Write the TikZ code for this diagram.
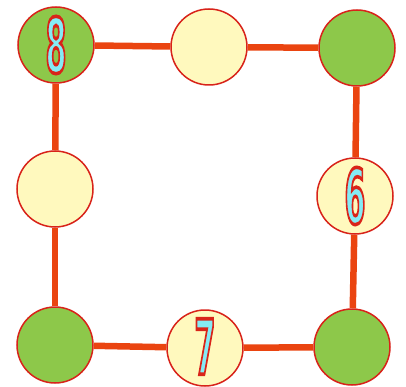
\documentclass[tikz,border=0pt]{standalone}
\usepackage{fontspec}
\setmainfont{DejaVu Sans Condensed}
\definecolor{gfill}{HTML}{8DC84A}
\definecolor{cfill}{HTML}{FFF9BE}
\definecolor{rim}{HTML}{D8231A}
\definecolor{bar}{HTML}{EA4410}
\definecolor{digfill}{HTML}{7FE3EE}
\newcommand{\dig}[1]{\scalebox{0.44}[1]{\fontsize{76}{76}\bfseries\special{pdf:literal direct q 2 Tr 3.6 w 0.85 0.14 0.10 RG 0.52 0.92 0.96 rg}#1\special{pdf:literal direct Q}}}
\tikzset{
  disc/.style={circle, draw=rim, line width=1.5pt, minimum size=76pt, inner sep=0pt},
  gdisc/.style={disc, fill=gfill},
  cdisc/.style={disc, fill=cfill},
  link/.style={draw=bar, line width=6.5pt}
}
\begin{document}
\begin{tikzpicture}[x=1pt,y=-1pt]
\useasboundingbox (0,0) rectangle (406,387);
\node[gdisc] (tl) at (56,45) {\dig{8}};
\node[cdisc] (tm) at (209,47) {};
\node[gdisc] (tr) at (357,48) {};
\node[cdisc] (ml) at (55,189) {};
\node[cdisc] (mr) at (355,196) {\dig{6}};
\node[gdisc] (bl) at (55,345) {};
\node[cdisc] (bm) at (205,348) {\raisebox{3pt}{\dig{7}}};
\node[gdisc] (br) at (352,347) {};
\draw[link] (tl) -- (tm);
\draw[link] (tm) -- (tr);
\draw[link] (tr) -- (mr);
\draw[link] (mr) -- (br);
\draw[link] (br) -- (bm);
\draw[link] (bm) -- (bl);
\draw[link] (bl) -- (ml);
\draw[link] (ml) -- (tl);
\end{tikzpicture}
\end{document}
